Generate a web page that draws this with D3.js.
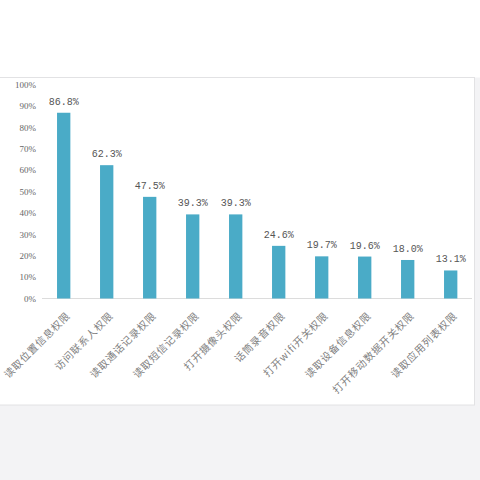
<!DOCTYPE html>
<html><head><meta charset="utf-8">
<script src="https://cdn.jsdelivr.net/npm/d3@7/dist/d3.min.js"></script>
<style>html,body{margin:0;padding:0;background:#fff;}svg{display:block;}</style>
</head><body>
<script>
const categories = ["读取位置信息权限","访问联系人权限","读取通话记录权限","读取短信记录权限","打开摄像头权限","话筒录音权限","打开wifi开关权限","读取设备信息权限","打开移动数据开关权限","读取应用列表权限"];
const values = [86.8, 62.3, 47.5, 39.3, 39.3, 24.6, 19.7, 19.6, 18.0, 13.1];
const valueLabels = ["86.8%","62.3%","47.5%","39.3%","39.3%","24.6%","19.7%","19.6%","18.0%","13.1%"];
const yTicks = [0,10,20,30,40,50,60,70,80,90,100];

const W = 480, H = 480;
const svg = d3.select("body").append("svg").attr("width", W).attr("height", H);

// page background / frame
svg.append("rect").attr("x",0).attr("y",0).attr("width",W).attr("height",H).attr("fill","#f3f3f5");
svg.append("rect").attr("x",0).attr("y",0).attr("width",W).attr("height",77.5).attr("fill","#ffffff");
svg.append("rect").attr("x",-1).attr("y",77.5).attr("width",475.5).attr("height",327.5)
  .attr("fill","#ffffff").attr("stroke","#e2e2e4").attr("stroke-width",1);

const x = d3.scaleBand().domain(categories).range([42.2, 472.2]).paddingInner(0.69).paddingOuter(0.345);
const y = d3.scaleLinear().domain([0,100]).range([298.5, 84.5]);

// baseline
svg.append("line").attr("x1",42).attr("x2",472).attr("y1",y(0)).attr("y2",y(0))
  .attr("stroke","#dcdcdc").attr("stroke-width",1);

// y axis labels
const yAxis = d3.axisLeft(y).tickValues(yTicks).tickFormat(d => d + "%").tickSize(0).tickPadding(0);
const yg = svg.append("g").attr("transform","translate(36,0)").call(yAxis);
yg.select(".domain").remove();
yg.selectAll("text").attr("font-family","'Liberation Serif','DejaVu Serif',serif")
  .attr("font-size","9px").attr("fill","#666");

// bars
svg.selectAll("rect.bar").data(categories).enter().append("rect").attr("class","bar")
  .attr("x", d => x(d)).attr("width", x.bandwidth())
  .attr("y", (d,i) => y(values[i])).attr("height", (d,i) => y(0) - y(values[i]))
  .attr("fill","#4aabc7");

// value labels
svg.selectAll("text.val").data(categories).enter().append("text").attr("class","val")
  .attr("x", d => x(d) + x.bandwidth()/2)
  .attr("y", (d,i) => y(values[i]) - 8)
  .attr("text-anchor","middle")
  .attr("font-family","'Liberation Mono','DejaVu Sans Mono',monospace")
  .attr("font-size","10px").attr("fill","#555")
  .text((d,i) => valueLabels[i]);

// category labels
svg.selectAll("text.cat").data(categories).enter().append("text").attr("class","cat")
  .attr("transform", d => `translate(${x(d) + x.bandwidth()/2 + 7},${y(0) + 18}) rotate(-45)`)
  .attr("text-anchor","end")
  .attr("font-family","'Noto Sans CJK SC',sans-serif")
  .attr("font-size","10.2px").attr("letter-spacing","0.8px").attr("fill","#808080")
  .text(d => d);
</script>
</body></html>
